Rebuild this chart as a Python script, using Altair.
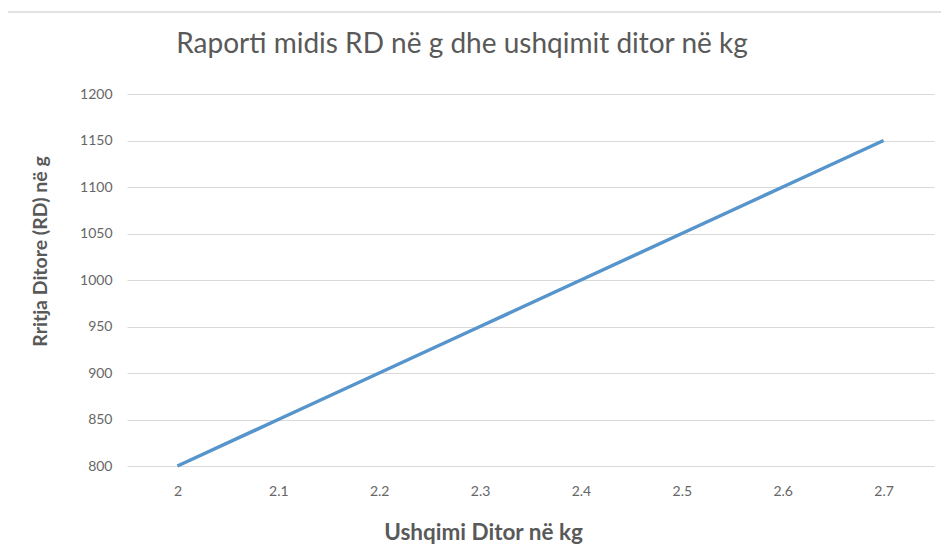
import altair as alt
import pandas as pd

title_text = "Raporti midis RD në g dhe ushqimit ditor në kg"
feed_kg = ["2", "2.1", "2.2", "2.3", "2.4", "2.5", "2.6", "2.7"]
gain_g = [800, 850, 900, 950, 1000, 1050, 1100, 1150]
y_ticks = [800, 850, 900, 950, 1000, 1050, 1100, 1150, 1200]

df = pd.DataFrame({"feed": feed_kg, "gain": gain_g})

W, H = 807, 372
PL, PT, PR, PB = 119, 86, 7, 82
FONT = "Lato"
LABEL_C = "#666666"
TITLE_C = "#595959"
FRAME_C = "#d9d9d9"

line = alt.Chart(df).mark_line(color="#5694cc", strokeWidth=3.5, clip=False).encode(
    x=alt.X("feed:O", sort=feed_kg,
            scale=alt.Scale(type="point", padding=0.5),
            axis=alt.Axis(title="Ushqimi Ditor në kg", labelAngle=0, domain=False,
                          ticks=False, grid=False, labelPadding=18,
                          titleX=356, titleY=66, titleBaseline="middle", titleAlign="center",
                          labelFontSize=14, labelColor=LABEL_C, labelFont=FONT,
                          titleFont=FONT, titleFontSize=22.5, titleFontWeight="bold",
                          titleColor=TITLE_C)),
    y=alt.Y("gain:Q", scale=alt.Scale(domain=[800, 1200], nice=False, zero=False),
            axis=alt.Axis(title="Rritja Ditore (RD) në g", values=y_ticks, format="d",
                          domain=False, ticks=False, grid=True, gridColor="#d9d9d9",
                          gridWidth=1.2, labelPadding=15,
                          titleX=-87, titleY=157, titleBaseline="middle", titleAlign="center",
                          titleAngle=270,
                          labelFontSize=14, labelColor=LABEL_C, labelFont=FONT,
                          titleFont=FONT, titleFontSize=19.5, titleFontWeight="bold",
                          titleColor=TITLE_C)),
)

one = pd.DataFrame({"a": [0]})
frame_top = alt.Chart(one).mark_rule(color=FRAME_C, strokeWidth=1.5).encode(
    x=alt.value(-(PL + 8 - 7)), x2=alt.value(W + 40), y=alt.value(-(PT + 8 - 12)),
)
frame_left = alt.Chart(one).mark_rule(color=FRAME_C, strokeWidth=1.5).encode(
    x=alt.value(-(PL + 8 - 7)), y=alt.value(-(PT + 8 - 12)), y2=alt.value(H + 120),
)

title = alt.Chart(pd.DataFrame({"t": [title_text]})).mark_text(
    font=FONT, fontSize=28, color=TITLE_C, align="center", baseline="middle"
).encode(
    text="t:N", x=alt.value(335), y=alt.value(-49),
)

chart = alt.layer(frame_top, frame_left, line, title).properties(
    width=W, height=H,
    background="white",
    autosize=alt.AutoSizeParams(type="none"),
    padding={"left": PL, "top": PT, "right": PR, "bottom": PB},
).configure_view(strokeWidth=0, stroke="transparent")

chart.save("out.html", embed_options={"renderer": "svg", "actions": False})
